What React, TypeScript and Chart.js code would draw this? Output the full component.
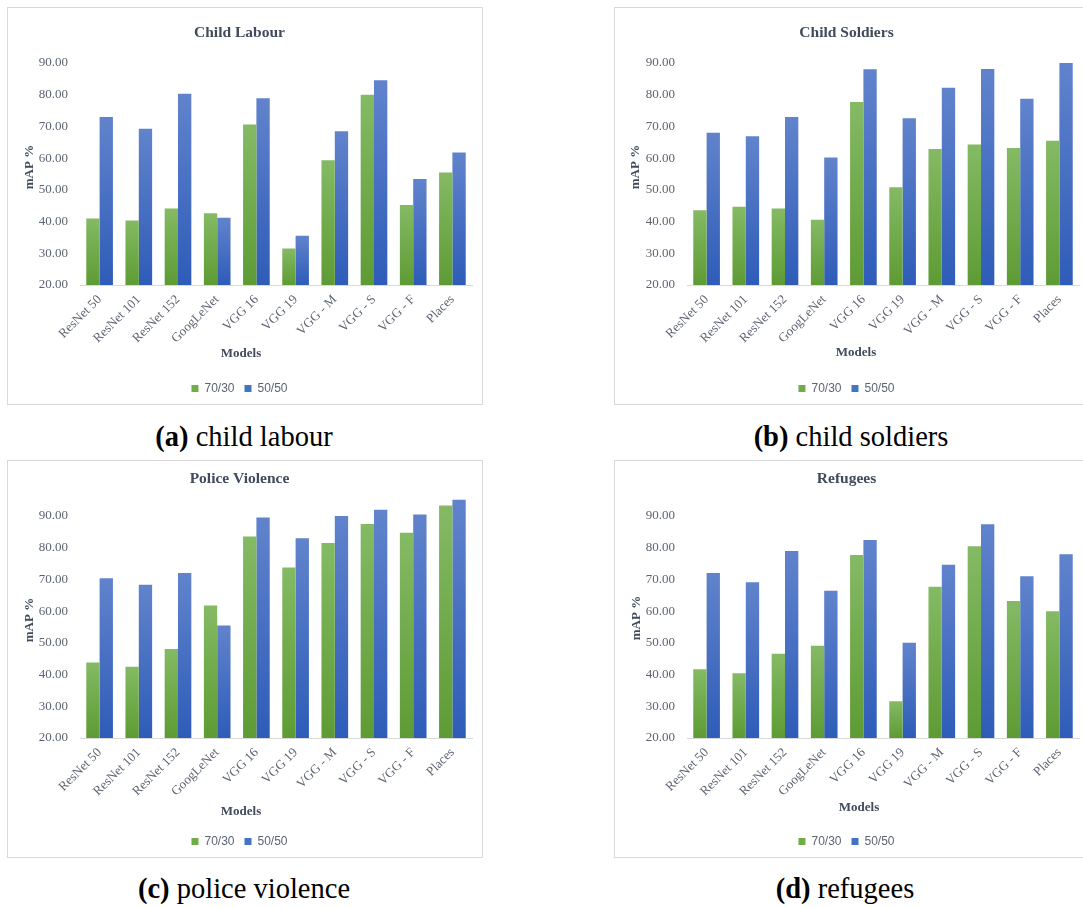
import React, { useEffect, useRef } from "react";
import { Chart, registerables } from "chart.js";

Chart.register(...registerables);

// ---------- data ----------
const categories = [
  "ResNet 50",
  "ResNet 101",
  "ResNet 152",
  "GoogLeNet",
  "VGG 16",
  "VGG 19",
  "VGG - M",
  "VGG - S",
  "VGG - F",
  "Places",
];
const seriesNames = ["70/30", "50/50"];
const yTicks = [20, 30, 40, 50, 60, 70, 80, 90];
const xAxisTitle = "Models";
const yAxisTitle = "mAP %";

const childLabour7030 = [41.0, 40.3, 44.1, 42.6, 70.6, 31.5, 59.3, 80.0, 45.2, 55.5];
const childLabour5050 = [73.0, 69.3, 80.3, 41.2, 78.9, 35.5, 68.5, 84.6, 53.4, 61.8];

const childSoldiers7030 = [43.6, 44.7, 44.1, 40.6, 77.7, 50.8, 62.9, 64.3, 63.2, 65.5];
const childSoldiers5050 = [68.0, 66.9, 73.0, 60.2, 88.0, 72.6, 82.2, 88.1, 78.7, 90.0];

const policeViolence7030 = [43.8, 42.5, 48.1, 61.8, 83.5, 73.8, 81.5, 87.5, 84.7, 93.3];
const policeViolence5050 = [70.4, 68.3, 72.0, 55.5, 89.5, 83.0, 90.0, 92.0, 90.5, 95.1];

const refugees7030 = [41.7, 40.4, 46.6, 49.1, 77.7, 31.6, 67.7, 80.5, 63.2, 60.0];
const refugees5050 = [72.0, 69.1, 79.0, 66.4, 82.4, 50.0, 74.6, 87.4, 71.0, 77.9];

const chartTitles = ["Child Labour", "Child Soldiers", "Police Violence", "Refugees"];
const captionLetters = ["(a)", "(b)", "(c)", "(d)"];
const captionTexts = ["child labour", "child soldiers", "police violence", "refugees"];

// ---------- layout / style ----------
const BOX_W = 476;
const BOX_H = 398;

const panelLayouts = [
  { left: 7, top: 7, titleY: 26, modelsX: 234, modelsY: 347, yTitleX: 23, yTitleY: 160, capX: 244, capY: 437, clipW: 476 },
  { left: 614, top: 7, titleY: 25.5, modelsX: 242, modelsY: 346, yTitleX: 22, yTitleY: 160, capX: 851, capY: 437, clipW: 469 },
  { left: 7, top: 460, titleY: 18.5, modelsX: 234, modelsY: 352, yTitleX: 23, yTitleY: 160, capX: 244, capY: 889, clipW: 476 },
  { left: 614, top: 460, titleY: 18.5, modelsX: 245, modelsY: 348, yTitleX: 22.7, yTitleY: 158, capX: 845, capY: 889, clipW: 469 },
];

const panelData = [
  [childLabour7030, childLabour5050],
  [childSoldiers7030, childSoldiers5050],
  [policeViolence7030, policeViolence5050],
  [refugees7030, refugees5050],
];

const GREEN = { solid: "#70ad47", top: "#84ba64", bottom: "#5e9b34" };
const BLUE = { solid: "#4472c4", top: "#6183cc", bottom: "#2e5cb8" };
const TITLE_COLOR = "#414b5b";
const TICK_COLOR = "#5d6371";
const SERIF = '"Liberation Serif", "Times New Roman", serif';
const SANS = '"Liberation Sans", Arial, sans-serif';

function gradientFill(colors: { solid: string; top: string; bottom: string }) {
  return (ctx: any) => {
    const chart = ctx.chart;
    const area = chart.chartArea;
    if (!area || ctx.type !== "data") return colors.solid;
    const y = chart.scales.y.getPixelForValue(ctx.raw);
    if (!isFinite(y) || area.bottom - y < 1) return colors.solid;
    const g = chart.ctx.createLinearGradient(0, y, 0, area.bottom);
    g.addColorStop(0, colors.top);
    g.addColorStop(1, colors.bottom);
    return g;
  };
}

function Panel({ index }: { index: number }) {
  const ref = useRef<HTMLCanvasElement | null>(null);
  const L = panelLayouts[index];

  useEffect(() => {
    if (!ref.current) return;
    const [s1, s2] = panelData[index];
    const extras = {
      id: "extras" + index,
      beforeDraw(chart: any) {
        const c = chart.ctx;
        c.save();
        c.fillStyle = "#ffffff";
        c.fillRect(0, 0, chart.width, chart.height);
        c.strokeStyle = "#d9d9d9";
        c.lineWidth = 1;
        c.strokeRect(0.5, 0.5, chart.width - 1, chart.height - 1);
        c.restore();
      },
      afterDraw(chart: any) {
        const c = chart.ctx;
        c.save();
        c.fillStyle = TITLE_COLOR;
        c.font = `bold 13px ${SERIF}`;
        c.textAlign = "center";
        c.textBaseline = "middle";
        c.fillText(xAxisTitle, L.modelsX, L.modelsY);
        c.translate(L.yTitleX, L.yTitleY);
        c.rotate(-Math.PI / 2);
        c.fillText(yAxisTitle, 0, 0);
        c.restore();
      },
    };

    const clipOpt: any = { left: false, right: false, top: false, bottom: 0 };

    const chart = new Chart(ref.current, {
      type: "bar",
      data: {
        labels: categories,
        datasets: [
          {
            label: seriesNames[0],
            data: s1,
            backgroundColor: gradientFill(GREEN),
            borderWidth: 0,
            clip: clipOpt,
          },
          {
            label: seriesNames[1],
            data: s2,
            backgroundColor: gradientFill(BLUE),
            borderWidth: 0,
            clip: clipOpt,
          },
        ],
      },
      options: {
        animation: false,
        responsive: false,
        maintainAspectRatio: false,
        events: [],
        layout: { padding: { top: 0, left: 0, right: 11, bottom: 0.5 } },
        datasets: { bar: { categoryPercentage: 0.68, barPercentage: 1.0 } },
        plugins: {
          title: {
            display: true,
            text: chartTitles[index],
            color: TITLE_COLOR,
            font: { family: SERIF, size: 15.5, weight: "bold", lineHeight: 1.2 },
            padding: { top: L.titleY - 9.3, bottom: 56 - (L.titleY + 9.3) },
          },
          legend: {
            display: true,
            position: "bottom",
            labels: {
              boxWidth: 7,
              boxHeight: 7,
              padding: 10,
              color: TICK_COLOR,
              font: { family: SANS, size: 12 },
              generateLabels: (ch: any) =>
                ch.data.datasets.map((ds: any, i: number) => ({
                  text: ds.label,
                  fillStyle: i === 0 ? GREEN.solid : BLUE.solid,
                  strokeStyle: i === 0 ? GREEN.solid : BLUE.solid,
                  lineWidth: 0,
                  hidden: false,
                  datasetIndex: i,
                  fontColor: TICK_COLOR,
                })),
            },
          },
          tooltip: { enabled: false },
        },
        scales: {
          x: {
            grid: { display: false, drawTicks: false },
            border: { display: true, color: "#d9d9d9", width: 1 },
            ticks: {
              autoSkip: false,
              maxRotation: 45,
              minRotation: 45,
              padding: 7,
              color: TICK_COLOR,
              font: { family: SERIF, size: 13 },
            },
            afterFit: (s: any) => {
              s.height = 87.5;
            },
          },
          y: {
            min: 20,
            max: 90,
            grid: { display: false, drawTicks: false },
            border: { display: false },
            afterBuildTicks: (s: any) => {
              s.ticks = yTicks.map((v) => ({ value: v }));
            },
            ticks: {
              padding: 12,
              color: TICK_COLOR,
              font: { family: SERIF, size: 13 },
              callback: (v: any) => Number(v).toFixed(2),
            },
            afterFit: (s: any) => {
              s.width = 73;
            },
          },
        },
      },
      plugins: [extras],
    });
    return () => chart.destroy();
  }, [index]);

  return (
    <div
      style={{
        position: "absolute",
        left: L.left,
        top: L.top,
        width: L.clipW,
        height: BOX_H,
        overflow: "hidden",
      }}
    >
      <canvas ref={ref} width={BOX_W} height={BOX_H} style={{ display: "block", width: BOX_W, height: BOX_H }} />
    </div>
  );
}

function Caption({ index }: { index: number }) {
  const L = panelLayouts[index];
  return (
    <div
      style={{
        position: "absolute",
        left: L.capX - 200,
        width: 400,
        top: L.capY - 17,
        height: 34,
        lineHeight: "34px",
        textAlign: "center",
        fontFamily: SERIF,
        fontSize: 28.5,
        color: "#000",
        whiteSpace: "nowrap",
      }}
    >
      <b>{captionLetters[index]}</b> {captionTexts[index]}
    </div>
  );
}

export default function App() {
  return (
    <div
      style={{
        position: "absolute",
        left: 0,
        top: 0,
        width: 1083,
        height: 908,
        overflow: "hidden",
        background: "#ffffff",
      }}
    >
      {[0, 1, 2, 3].map((i) => (
        <Panel key={"p" + i} index={i} />
      ))}
      {[0, 1, 2, 3].map((i) => (
        <Caption key={"c" + i} index={i} />
      ))}
    </div>
  );
}
